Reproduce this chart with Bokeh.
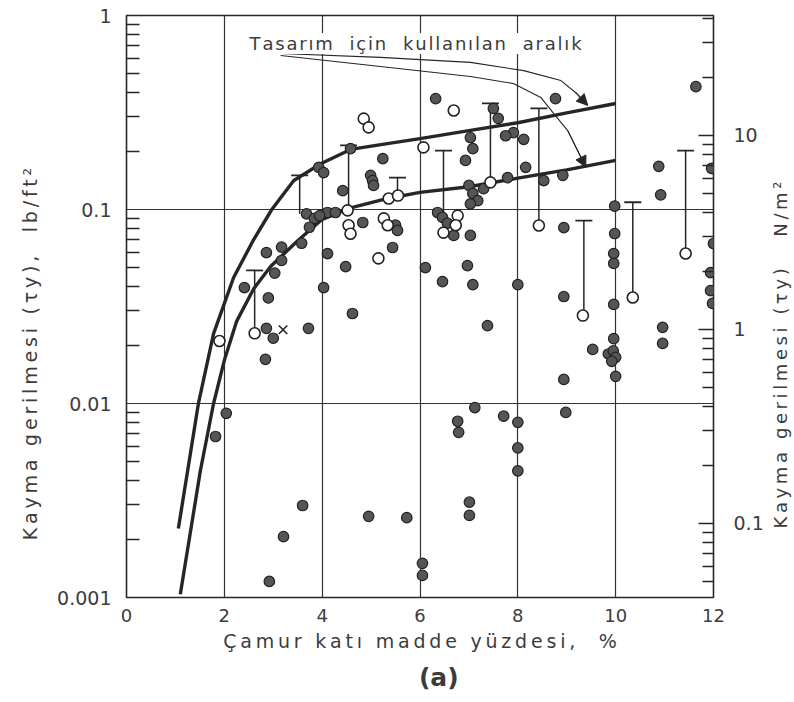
import math
from bokeh.plotting import figure
from bokeh.layouts import row
from bokeh.models import (Range1d, LogScale, LogAxis, FixedTicker, CustomJSTickFormatter,
                          Label, Arrow, NormalHead, Title, Div)
from bokeh.embed import file_html
from bokeh.resources import INLINE

# ---------------- data ----------------
x_ticks = [0, 2, 4, 6, 8, 10, 12]
y_ticks = [0.001, 0.01, 0.1, 1]
y_minor = [m * 10.0 ** e for e in (-3, -2, -1) for m in range(2, 10)]
nm_ticks = [0.1, 1, 10]
nm_minor = [m * 10.0 ** e for e in (-2, -1, 0, 1) for m in range(2, 10)]
x_grid = [2, 4, 6, 8, 10]
y_grid = [0.01, 0.1]

# upper and lower bound curves of the design range
upper_x = [1.06, 1.25, 1.47, 1.78, 2.19, 2.6, 2.97, 3.42, 3.97, 4.58, 5.3, 6.0, 7.0, 8.0, 9.0, 10.0]
upper_y = [0.00227, 0.0045, 0.01, 0.0229, 0.0446, 0.07, 0.1, 0.141, 0.172, 0.204, 0.218, 0.232, 0.255, 0.28, 0.315, 0.352]
lower_x = [1.1, 1.31, 1.51, 1.78, 2.0, 2.25, 2.6, 2.95, 3.5, 4.0, 4.58, 5.34, 6.0, 7.0, 8.0, 9.0, 10.0]
lower_y = [0.00104, 0.0022, 0.0045, 0.01, 0.0167, 0.0265, 0.039, 0.051, 0.069, 0.089, 0.102, 0.114, 0.1226, 0.131, 0.145, 0.16, 0.179]

# filled points
filled_x = [1.82, 2.04, 2.84, 3.6, 3.21, 2.92, 4.95, 5.73, 6.05, 6.05, 7.01, 7.01, 7.12, 6.77, 6.79,
            7.71, 8.0, 8.0, 8.0, 8.98, 4.11, 4.03, 4.48, 4.62, 6.11, 6.46, 6.97, 7.08, 8.0, 7.38,
            8.94, 9.96, 9.96, 9.96, 9.96, 9.53, 9.85, 9.95, 10.0, 9.92, 10.0, 8.94, 10.96, 10.96,
            11.94, 11.94, 11.98, 8.77, 11.64, 10.88, 10.92, 11.96, 12.0, 9.98, 9.98, 8.94, 8.16,
            8.53, 8.92, 7.91, 8.12, 6.32, 5.24, 4.99, 5.03, 5.05, 4.42, 7.03, 7.08, 6.93, 7.5, 7.6,
            7.75, 7.79, 7.0, 7.08, 7.18, 7.03, 7.3, 4.83, 5.5, 5.54, 5.44, 6.36, 6.46, 6.56, 6.69,
            7.03, 4.11, 4.27, 4.58, 2.86, 3.17, 3.17, 3.03, 2.41, 2.9, 3.58, 3.68, 3.84, 3.95, 3.74,
            3.93, 4.03, 2.86, 3.0, 3.72]
filled_y = [0.00676, 0.0089, 0.0169, 0.00298, 0.00206, 0.00121, 0.00262, 0.00258, 0.0015, 0.0013,
            0.0031, 0.00265, 0.00953, 0.0081, 0.0071, 0.0086, 0.008, 0.0059, 0.0045, 0.009, 0.0593,
            0.0396, 0.0508, 0.0291, 0.0502, 0.0425, 0.0514, 0.041, 0.041, 0.0252, 0.0356, 0.0593,
            0.0527, 0.0324, 0.0216, 0.019, 0.018, 0.0187, 0.0173, 0.0165, 0.0138, 0.0133, 0.0247,
            0.0204, 0.0473, 0.0382, 0.0328, 0.373, 0.43, 0.167, 0.119, 0.163, 0.0668, 0.104, 0.0752,
            0.0807, 0.165, 0.141, 0.15, 0.249, 0.23, 0.373, 0.183, 0.15, 0.141, 0.133, 0.125, 0.235,
            0.206, 0.179, 0.332, 0.295, 0.24, 0.146, 0.133, 0.121, 0.111, 0.107, 0.128, 0.0857, 0.083,
            0.078, 0.0637, 0.0965, 0.091, 0.085, 0.0735, 0.0735, 0.0965, 0.0965, 0.206, 0.06, 0.064,
            0.0546, 0.047, 0.0396, 0.035, 0.067, 0.095, 0.09, 0.093, 0.081, 0.165, 0.155, 0.0244,
            0.0217, 0.0244]

# open points
open_x = [1.9, 2.62, 4.52, 4.54, 4.58, 5.36, 5.55, 5.26, 5.34, 5.15, 4.85, 4.95, 6.07, 6.69,
          6.77, 6.73, 6.48, 7.44, 8.43, 9.33, 10.35, 11.43]
open_y = [0.021, 0.023, 0.099, 0.083, 0.075, 0.114, 0.118, 0.09, 0.083, 0.056, 0.294, 0.265,
          0.209, 0.324, 0.093, 0.083, 0.076, 0.138, 0.0827, 0.0284, 0.0352, 0.0593]

# single "X" point
cross_x = [3.2]
cross_y = [0.024]

# range bars (x, low, high)
bar_x = [2.62, 3.54, 4.54, 5.54, 6.48, 7.44, 8.43, 9.35, 10.35, 11.43]
bar_lo = [0.023, 0.095, 0.099, 0.118, 0.076, 0.138, 0.0827, 0.0284, 0.0352, 0.0593]
bar_hi = [0.0485, 0.15, 0.214, 0.146, 0.201, 0.352, 0.332, 0.0877, 0.109, 0.201]

# annotation leader lines
arrow1_x = [3.15, 5.19, 7.03, 8.12, 8.88, 9.18, 9.43]
arrow1_y = [0.637, 0.608, 0.573, 0.52, 0.462, 0.401, 0.344]
arrow2_x = [3.15, 5.19, 7.03, 7.91, 8.47, 8.73, 9.02, 9.39]
arrow2_y = [0.622, 0.546, 0.485, 0.446, 0.378, 0.313, 0.255, 0.165]

title_text = "Tasarım  için  kullanılan  aralık"
xlabel_text = "Çamur katı madde yüzdesi,  %"
ylabel_text = "Kayma gerilmesi (τy),  lb/ft²"
y2label_text = "Kayma gerilmesi (τy)   N/m²"
panel_text = "(a)"

FONT = "DejaVu Sans"
INK = "#262626"
TXT = "#3c3c3c"


def spaced(s, sep="\u2009"):
    return sep.join(s)


p = figure(frame_width=587, frame_height=582, x_range=Range1d(0, 12),
           y_range=Range1d(0.001, 1), y_axis_type="log",
           output_backend="svg", toolbar_location=None,
           min_border_left=126, min_border_right=51, min_border_top=15, min_border_bottom=104)
p.background_fill_color = "white"
p.border_fill_color = "white"
p.outline_line_color = INK
p.outline_line_width = 1.6

# grid
p.xgrid.ticker = FixedTicker(ticks=x_grid)
p.ygrid.ticker = FixedTicker(ticks=y_grid)
for g in (p.xgrid, p.ygrid):
    g.grid_line_color = "#333333"
    g.grid_line_width = 1.2
    g.grid_line_alpha = 1.0

# x axis
xa = p.xaxis[0]
xa.ticker = FixedTicker(ticks=x_ticks)
xa.major_tick_in = 0
xa.major_tick_out = 0
xa.minor_tick_in = 0
xa.minor_tick_out = 0
xa.axis_line_color = None
xa.major_label_standoff = 11
xa.major_label_text_font = FONT
xa.major_label_text_font_size = "18px"
xa.major_label_text_color = TXT
xa.axis_label = spaced(xlabel_text)
xa.axis_label_text_font = FONT
xa.axis_label_text_font_size = "19px"
xa.axis_label_text_font_style = "normal"
xa.axis_label_text_color = TXT
xa.axis_label_standoff = 5

# left axis
ya = p.yaxis[0]
ya.ticker = FixedTicker(ticks=y_ticks, minor_ticks=y_minor)
ya.formatter = CustomJSTickFormatter(code="return tick.toString()")
ya.major_tick_in = 0
ya.major_tick_out = 0
ya.minor_tick_in = 13
ya.minor_tick_out = 0
ya.minor_tick_line_color = INK
ya.minor_tick_line_width = 1.4
ya.axis_line_color = None
ya.major_label_standoff = 15
ya.major_label_text_font = FONT
ya.major_label_text_font_size = "19px"
ya.major_label_text_color = TXT
ya.axis_label = spaced(ylabel_text) + "\u2002" * 10
ya.axis_label_text_font = FONT
ya.axis_label_text_font_size = "19px"
ya.axis_label_text_font_style = "normal"
ya.axis_label_text_color = TXT
ya.axis_label_standoff = 13

# right axis (N/m^2)
p.extra_y_ranges = {"nm": Range1d(0.0415, 41.5)}
p.extra_y_scales = {"nm": LogScale()}
ra = LogAxis(y_range_name="nm")
ra.ticker = FixedTicker(ticks=nm_ticks, minor_ticks=nm_minor)
ra.formatter = CustomJSTickFormatter(code="return tick.toString()")
ra.major_tick_in = 15
ra.major_tick_out = 0
ra.minor_tick_in = 11
ra.minor_tick_out = 0
ra.major_tick_line_color = INK
ra.minor_tick_line_color = INK
ra.major_tick_line_width = 1.4
ra.minor_tick_line_width = 1.4
ra.axis_line_color = None
ra.major_label_standoff = 20
ra.major_label_text_font = FONT
ra.major_label_text_font_size = "19px"
ra.major_label_text_color = TXT
p.add_layout(ra, "right")

# panel tag "(a)"
p.add_layout(Title(text="\u2002\u2002\u2002" + panel_text, align="center", text_font=FONT,
                   text_font_size="25px", text_font_style="bold", text_color=TXT,
                   standoff=12), "below")

# range bars
p.segment(x0=bar_x, y0=bar_lo, x1=bar_x, y1=bar_hi, line_color=INK, line_width=1.5)
p.scatter(x=bar_x, y=bar_hi, marker="dash", size=17, line_color=INK, line_width=1.8)

# curves
p.line(upper_x, upper_y, line_color=INK, line_width=3.4)
p.line(lower_x, lower_y, line_color=INK, line_width=3.4)

# leader lines and arrow heads
for ax_, ay_ in ((arrow1_x, arrow1_y), (arrow2_x, arrow2_y)):
    p.line(ax_, ay_, line_color=INK, line_width=1.1)
    p.add_layout(Arrow(end=NormalHead(size=11, fill_color=INK, line_color=INK),
                       x_start=ax_[-2], y_start=ay_[-2], x_end=ax_[-1], y_end=ay_[-1],
                       line_color=INK, line_width=1.1))

# points
p.scatter(filled_x, filled_y, marker="circle", size=10.5, fill_color="#555555",
          line_color="#222222", line_width=1.2)
p.scatter(open_x, open_y, marker="circle", size=11, fill_color="white",
          line_color="#222222", line_width=1.6)
p.scatter(cross_x, cross_y, marker="x", size=12, line_color="#222222", line_width=1.6)

# annotation text
p.add_layout(Label(x=5.91, y=0.717, text=spaced(title_text, "\u200a"), text_font=FONT,
                   text_font_size="18px", text_color=TXT, text_align="center",
                   text_baseline="middle", background_fill_color="white"))

# right-hand label, reading bottom to top
right_html = (
    '<div style="position:relative;width:30px;height:690px;overflow:visible;">'
    '<div style="position:absolute;left:15px;top:355px;'
    'transform:translate(-50%,-50%) rotate(-90deg);white-space:nowrap;'
    "font-family:'DejaVu Sans';font-size:18px;color:#3c3c3c;\">"
    + spaced(y2label_text) + '</div></div>'
)
side = Div(text=right_html, width=30, height=690, margin=(0, 0, 0, 0))

layout = row(p, side, spacing=0)
open("out.html", "w").write(file_html(layout, INLINE))
